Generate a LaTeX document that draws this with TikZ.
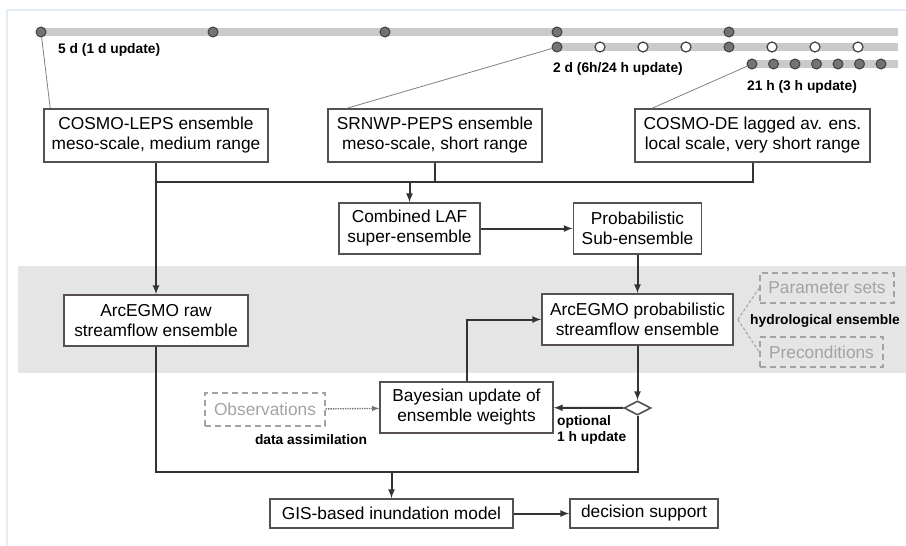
\documentclass[tikz,border=0pt]{standalone}
\usepackage{fontspec}
\setmainfont{Liberation Sans}
\usetikzlibrary{shapes,arrows,calc}
\definecolor{boxline}{HTML}{575050}
\definecolor{conncol}{HTML}{333333}
\definecolor{softgray}{HTML}{A3A3A3}
\definecolor{bandgray}{HTML}{E5E5E5}
\definecolor{framecol}{HTML}{E2EDF8}
\definecolor{barcol}{HTML}{CACACA}
\tikzset{%
  block/.style    = {draw=boxline, line width=1.6pt, rectangle, fill=white,
    align=center, inner sep=0pt, font=\fontsize{17.3}{20}\selectfont},
  softblock/.style = {draw=softgray, line width=1.4pt, dash pattern=on 6pt off 4pt,
    rectangle, inner sep=0pt, text=softgray, font=\fontsize{17.3}{20}\selectfont},
  lbl/.style      = {inner sep=0pt, font=\bfseries\fontsize{13.8}{16}\selectfont}, % small labels
  conn/.style     = {draw=conncol, line width=2pt},
  arr/.style      = {conn, -latex},
  lead/.style     = {draw=gray, line width=0.8pt}, % timeline leads
  fulldot/.style  = {circle, draw=black!75, fill=black!55, line width=1pt,
    minimum size=10pt, inner sep=0pt},
  opendot/.style  = {circle, draw=black!75, fill=white, line width=1.2pt,
    minimum size=10pt, inner sep=0pt},
  gate/.style     = {diamond, aspect=1.9, draw=boxline, fill=white, line width=1.6pt,
    minimum width=27pt, minimum height=14pt, inner sep=0pt}
}

\begin{document}
\begin{tikzpicture}[x=1pt, y=-1pt]
  \useasboundingbox (0,0) rectangle (906,546);
  \draw[framecol, line width=2pt] (7,546) -- (7,10) -- (906,10);
  \fill[bandgray] (18,266) rectangle (906,373);

  % forecast horizons
  \draw[barcol, line width=8pt] (41,32) -- (898,32);
  \draw[barcol, line width=8pt] (557,47) -- (898,47);
  \draw[barcol, line width=8pt] (752,64) -- (898,64);
  \foreach \x in {41,213,385,557,729}
    \node[fulldot] (ra\x) at (\x,32) {};
  \foreach \x/\s in {557/fulldot,600/opendot,643/opendot,686/opendot,
                     729/fulldot,772/opendot,815/opendot,858/opendot}
    \node[\s] (rb\x) at (\x,47) {};
  \foreach \i in {0,...,6}
    \node[fulldot] (rc\i) at (752+21.5*\i,64) {};
  \node[lbl, anchor=west] (h5d) at (58,50) {5 d (1 d update)};
  \node[lbl, anchor=west] (h2d) at (553,69) {2 d (6h/24 h update)};
  \node[lbl, anchor=west] (h21) at (747,87) {21 h (3 h update)};

  % meteorological ensembles
  \node[block, minimum width=224pt, minimum height=53pt] (leps) at (156,135.5)
    {COSMO-LEPS ensemble\\meso-scale, medium range};
  \node[block, minimum width=214pt, minimum height=53pt] (peps) at (435,135.5)
    {SRNWP-PEPS ensemble\\meso-scale, short range};
  \node[block, minimum width=235pt, minimum height=53pt] (cde) at (752.5,135.5)
    {COSMO-DE lagged av. ens.\\local scale, very short range};
  \draw[lead] (ra41) -- ([xshift=7pt]leps.north west);
  \draw[lead] (rb557) -- ([xshift=20pt]peps.north west);
  \draw[lead] (rc0) -- ([xshift=18pt]cde.north west);

  \node[block, minimum width=141pt, minimum height=51pt] (laf) at (409.5,228.5)
    {Combined LAF\\super-ensemble};
  \node[block, minimum width=128pt, minimum height=51pt] (sub) at (637.5,228.5)
    {Probabilistic\\Sub-ensemble};

  % hydrological models
  \node[block, minimum width=184pt, minimum height=51pt] (raw) at (156,320.5)
    {ArcEGMO raw\\streamflow ensemble};
  \node[block, minimum width=191pt, minimum height=51pt] (prob) at (637.5,319.5)
    {ArcEGMO probabilistic\\streamflow ensemble};
  \node[softblock, minimum width=134pt, minimum height=30pt] (par) at (827,288)
    {Parameter sets};
  \node[softblock, minimum width=123pt, minimum height=30pt] (pre) at (821.5,352)
    {Preconditions};
  \node[lbl] (hyd) at (825,321) {hydrological ensemble};
  \draw[softgray, line width=1pt, densely dashed] ([xshift=4pt]prob.east) -- (par.west);
  \draw[softgray, line width=1pt, densely dashed] ([xshift=4pt]prob.east) -- (pre.west);

  % updating and inundation
  \node[block, minimum width=173pt, minimum height=51pt] (bay) at (466.5,407.5)
    {Bayesian update of\\ensemble weights};
  \node[softblock, minimum width=120pt, minimum height=33pt] (obs) at (265,409.5)
    {Observations};
  \node[lbl] (assim) at (311,440) {data assimilation};
  \node[gate] (gt) at (637.5,408) {};
  \node[lbl, align=left, anchor=north west] (opt) at (557,415) {optional\\1 h update};
  \node[block, minimum width=243pt, minimum height=29pt] (gis) at (391.5,513.5)
    {GIS-based inundation model};
  \node[block, minimum width=148pt, minimum height=29pt] (dec) at (644,513.5)
    {decision support};

  \coordinate (busL) at (156,182);
  \coordinate (busR) at (752.5,182);
  \coordinate (busB) at (391.5,472);
  \draw[arr] (leps) -- (raw);
  \draw[conn] (peps) -- (peps |- busL);
  \draw[conn] (cde) -- (busR) -- (busL);
  \draw[arr] (laf |- busL) -- (laf);
  \draw[arr] (laf) -- (sub);
  \draw[arr] (sub) -- (prob);
  \draw[arr] (prob) -- (gt);
  \draw[arr] (gt) -- (bay);
  \draw[arr] (bay.north) |- (prob.west);
  \draw[black!55, line width=1.4pt, densely dotted, -latex] (obs) -- (bay);
  \draw[conn] (raw) |- (busB);
  \draw[conn] (gt) |- (busB);
  \draw[arr] (busB) -- (gis);
  \draw[arr] (gis) -- (dec);
\end{tikzpicture}
\end{document}
